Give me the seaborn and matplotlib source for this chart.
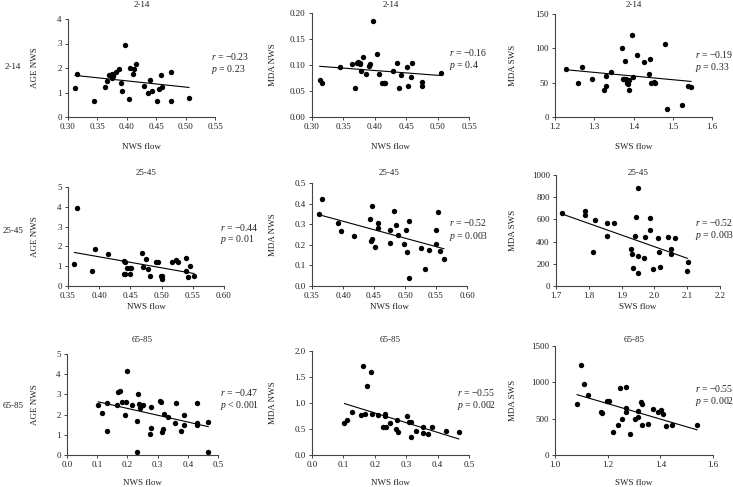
import matplotlib
matplotlib.use("Agg")
import matplotlib.pyplot as plt
import seaborn as sns
from matplotlib.ticker import FormatStrFormatter

# ---- values ----
groups = ["2-14", "25-45", "65-85"]

# 2-14
nws_flow_2_14_a = [0.312, 0.315, 0.344, 0.363, 0.367, 0.370, 0.374, 0.375, 0.377, 0.381,
                   0.386, 0.390, 0.391, 0.397, 0.403, 0.406, 0.411, 0.413, 0.416, 0.430,
                   0.436, 0.440, 0.443, 0.451, 0.454, 0.458, 0.460, 0.476, 0.476, 0.506]
age_nws_2_14 = [1.18, 1.74, 0.66, 1.23, 1.48, 1.72, 1.76, 1.60, 1.68, 1.82,
                1.95, 1.40, 1.08, 2.94, 0.73, 2.01, 1.76, 1.97, 2.16, 1.26,
                0.98, 1.49, 1.07, 0.66, 1.13, 1.71, 1.23, 1.83, 0.66, 0.79]

nws_flow_2_14_b = [0.312, 0.316, 0.344, 0.363, 0.368, 0.371, 0.374, 0.376, 0.377, 0.378,
                   0.382, 0.386, 0.390, 0.392, 0.397, 0.403, 0.406, 0.411, 0.414, 0.416,
                   0.429, 0.436, 0.439, 0.442, 0.451, 0.453, 0.458, 0.459, 0.475, 0.475, 0.505]
mda_nws_2_14 = [0.071, 0.065, 0.097, 0.101, 0.055, 0.104, 0.105, 0.101, 0.104, 0.089,
                0.115, 0.083, 0.099, 0.102, 0.185, 0.121, 0.083, 0.065, 0.066, 0.065,
                0.089, 0.104, 0.055, 0.081, 0.097, 0.060, 0.077, 0.104, 0.067, 0.060, 0.084]

sws_flow_2_14 = [1.227, 1.258, 1.268, 1.294, 1.326, 1.329, 1.330, 1.343, 1.370, 1.373,
                 1.376, 1.378, 1.381, 1.385, 1.384, 1.388, 1.387, 1.389, 1.397, 1.398,
                 1.409, 1.426, 1.440, 1.441, 1.445, 1.451, 1.456, 1.480, 1.485, 1.523,
                 1.539, 1.547]
mda_sws_2_14 = [70, 50, 73, 55, 39, 45, 59, 66, 101, 56,
                55, 81, 56, 52, 49, 54, 48, 39, 120, 58,
                91, 80, 63, 85, 49, 51, 49, 106, 12, 17,
                45, 44]

# 25-45
nws_flow_25_45_a = [0.360, 0.365, 0.389, 0.393, 0.414, 0.439, 0.439, 0.441, 0.442, 0.445,
                    0.449, 0.450, 0.451, 0.469, 0.470, 0.475, 0.478, 0.481, 0.491, 0.494,
                    0.499, 0.500, 0.500, 0.516, 0.523, 0.527, 0.539, 0.539, 0.542, 0.546, 0.552]
age_nws_25_45 = [1.12, 3.92, 0.78, 1.88, 1.64, 1.27, 0.63, 1.19, 0.63, 0.90,
                 0.90, 0.63, 0.90, 1.66, 0.98, 1.34, 0.85, 0.53, 1.19, 1.19,
                 0.51, 0.37, 0.49, 1.19, 1.31, 1.22, 1.39, 0.76, 0.46, 1.03, 0.49]

nws_flow_25_45_b = [0.362, 0.366, 0.392, 0.396, 0.418, 0.444, 0.445, 0.447, 0.447, 0.451,
                    0.456, 0.457, 0.476, 0.476, 0.482, 0.485, 0.489, 0.499, 0.501, 0.503,
                    0.506, 0.507, 0.526, 0.532, 0.538, 0.550, 0.550, 0.553, 0.557, 0.563]
mda_nws_25_45 = [0.351, 0.422, 0.304, 0.269, 0.243, 0.324, 0.218, 0.387, 0.227, 0.189,
                 0.306, 0.283, 0.272, 0.207, 0.364, 0.296, 0.249, 0.204, 0.272, 0.165,
                 0.314, 0.037, 0.186, 0.083, 0.173, 0.206, 0.272, 0.359, 0.168, 0.131]

sws_flow_25_45 = [1.717, 1.789, 1.789, 1.814, 1.820, 1.857, 1.857, 1.878, 1.928, 1.932,
                  1.936, 1.940, 1.944, 1.950, 1.950, 1.950, 1.968, 1.972, 1.986, 1.986,
                  1.997, 2.012, 2.015, 2.018, 2.040, 2.050, 2.050, 2.064, 2.098, 2.101]
mda_sws_25_45 = [659, 674, 638, 302, 595, 565, 450, 565, 335, 290,
                 166, 450, 625, 885, 272, 121, 248, 438, 616, 505,
                 154, 429, 305, 172, 441, 329, 284, 429, 133, 220]

# 65-85
nws_flow_65_85_a = [0.103, 0.117, 0.132, 0.134, 0.164, 0.168, 0.174, 0.181, 0.193, 0.195,
                    0.198, 0.214, 0.233, 0.236, 0.240, 0.242, 0.253, 0.233, 0.274, 0.277,
                    0.278, 0.308, 0.312, 0.313, 0.319, 0.321, 0.336, 0.360, 0.357, 0.376,
                    0.387, 0.387, 0.431, 0.429, 0.431, 0.468, 0.468]
age_nws_65_85 = [2.46, 2.07, 1.18, 2.57, 2.46, 3.11, 3.18, 2.62, 2.00, 2.61,
                 4.18, 2.46, 1.66, 3.00, 2.54, 2.34, 2.48, 0.16, 1.05, 2.38,
                 1.34, 2.69, 2.62, 1.16, 1.28, 2.02, 1.89, 2.59, 1.57, 1.18,
                 2.00, 1.49, 2.57, 1.57, 1.49, 1.64, 0.16]

nws_flow_65_85_b = [0.103, 0.110, 0.126, 0.157, 0.161, 0.168, 0.174, 0.187, 0.191, 0.209,
                    0.226, 0.231, 0.234, 0.235, 0.249, 0.268, 0.272, 0.273, 0.303, 0.309,
                    0.314, 0.315, 0.330, 0.352, 0.354, 0.371, 0.382, 0.427, 0.468]
mda_nws_65_85 = [0.607, 0.665, 0.818, 0.760, 1.706, 0.780, 1.335, 1.597, 0.780, 0.760,
                 0.530, 0.792, 0.748, 0.543, 0.607, 0.492, 0.677, 0.441, 0.748, 0.639,
                 0.639, 0.351, 0.460, 0.422, 0.537, 0.409, 0.537, 0.454, 0.441]

sws_flow_65_85 = [1.083, 1.099, 1.109, 1.126, 1.176, 1.180, 1.196, 1.205, 1.219, 1.241,
                  1.248, 1.256, 1.269, 1.270, 1.270, 1.283, 1.305, 1.315, 1.316, 1.325,
                  1.329, 1.329, 1.353, 1.373, 1.393, 1.401, 1.410, 1.423, 1.446, 1.540]
mda_sws_65_85 = [708, 1237, 982, 826, 598, 580, 740, 740, 315, 406,
                 927, 498, 932, 648, 594, 288, 498, 612, 521, 735,
                 703, 411, 420, 639, 594, 626, 566, 397, 411, 411]

r_values = ["−0.23", "−0.16", "−0.19", "−0.44", "−0.52", "−0.52", "−0.47", "−0.55", "−0.55"]
p_values = ["= 0.23", "= 0.4", "= 0.33", "= 0.01", "= 0.003", "= 0.003", "< 0.001", "= 0.002", "= 0.002"]

panels = [
    (nws_flow_2_14_a, age_nws_2_14, "NWS flow", "AGE NWS"),
    (nws_flow_2_14_b, mda_nws_2_14, "NWS flow", "MDA NWS"),
    (sws_flow_2_14, mda_sws_2_14, "SWS flow", "MDA SWS"),
    (nws_flow_25_45_a, age_nws_25_45, "NWS flow", "AGE NWS"),
    (nws_flow_25_45_b, mda_nws_25_45, "NWS flow", "MDA NWS"),
    (sws_flow_25_45, mda_sws_25_45, "SWS flow", "MDA SWS"),
    (nws_flow_65_85_a, age_nws_65_85, "NWS flow", "AGE NWS"),
    (nws_flow_65_85_b, mda_nws_65_85, "NWS flow", "MDA NWS"),
    (sws_flow_65_85, mda_sws_65_85, "SWS flow", "MDA SWS"),
]

# axis ranges: (xmin, xmax, xstep, xfmt, ymin, ymax, ystep, yfmt)
axis_specs = [
    (0.30, 0.55, 0.05, "%.2f", 0, 4, 1, "%d"),
    (0.30, 0.55, 0.05, "%.2f", 0, 0.20, 0.05, "%.2f"),
    (1.2, 1.6, 0.1, "%.1f", 0, 150, 50, "%d"),
    (0.35, 0.60, 0.05, "%.2f", 0, 5, 1, "%d"),
    (0.35, 0.60, 0.05, "%.2f", 0, 0.5, 0.1, "%.1f"),
    (1.7, 2.2, 0.1, "%.1f", 0, 1000, 200, "%d"),
    (0.0, 0.5, 0.1, "%.1f", 0, 5, 1, "%d"),
    (0.0, 0.5, 0.1, "%.1f", 0, 2.0, 0.5, "%.1f"),
    (1.0, 1.6, 0.2, "%.1f", 0, 1500, 500, "%d"),
]

# ---- layout (pixels on a 733x487 canvas) ----
W, H = 733, 487
boxes = [
    (68, 215, 19, 117), (312, 469, 13, 117), (555, 712, 14, 117),
    (68, 224, 187, 286), (312, 467, 183, 286), (556, 720, 175, 286),
    (67, 218, 354, 455), (312, 469, 351, 455), (555, 713, 346, 455),
]
title_y = [5, 173, 340]
xlabel_y = [147, 307, 483]
ylabel_x = [35, 273, 513]
rowlabel_y = [67, 231, 406]
stat_pos = [(211, 57), (449, 53), (695, 54),
            (220, 227), (449, 223), (695, 222),
            (220, 393), (457, 392), (695, 388)]


def fx(x):
    return x / W


def fy(y):
    return 1 - y / H


sns.set_style("ticks")
plt.rcParams["font.family"] = ["Liberation Serif", "DejaVu Serif"]
plt.rcParams["mathtext.fontset"] = "custom"
plt.rcParams["mathtext.it"] = "Liberation Serif:italic"
plt.rcParams["mathtext.rm"] = "Liberation Serif"

fig = plt.figure(figsize=(7.33, 4.87), dpi=100)
tick_fs = 6.5
label_fs = 6.5
stat_fs = 7
spine_col = "#444444"

for i, ((x, y, xl, yl), spec, box) in enumerate(zip(panels, axis_specs, boxes)):
    row, col = divmod(i, 3)
    l, r, t, b = box
    ax = fig.add_axes([fx(l), fy(b), (r - l) / W, (b - t) / H])
    sns.regplot(x=x, y=y, ax=ax, ci=None, color="black",
                scatter_kws={"s": 15, "linewidths": 0, "alpha": 1},
                line_kws={"linewidth": 0.8})
    xmin, xmax, xstep, xfmt, ymin, ymax, ystep, yfmt = spec
    nx = int(round((xmax - xmin) / xstep))
    ny = int(round((ymax - ymin) / ystep))
    ax.set_xticks([xmin + k * xstep for k in range(nx + 1)])
    ax.set_yticks([ymin + k * ystep for k in range(ny + 1)])
    ax.set_xlim(xmin, xmax)
    ax.set_ylim(ymin, ymax)
    ax.xaxis.set_major_formatter(FormatStrFormatter(xfmt))
    ax.yaxis.set_major_formatter(FormatStrFormatter(yfmt))
    ax.tick_params(labelsize=tick_fs, length=2.5, width=0.7, pad=2,
                   color=spine_col, labelcolor="#222222")
    sns.despine(ax=ax)
    for s in ("left", "bottom"):
        ax.spines[s].set_color(spine_col)
        ax.spines[s].set_linewidth(0.8)
    ax.set_xlabel("")
    ax.set_ylabel("")

    cx = (l + r) / 2
    fig.text(fx(cx), fy(title_y[row]), groups[row], ha="center", va="center",
             fontsize=label_fs, color="#222222")
    fig.text(fx(cx), fy(xlabel_y[row]), xl, ha="center", va="center",
             fontsize=label_fs, color="#222222")
    fig.text(fx(ylabel_x[col]), fy((t + b) / 2), yl, ha="center", va="center",
             rotation=90, fontsize=label_fs, color="#222222")

    sx, sy = stat_pos[i]
    fig.text(fx(sx), fy(sy), "$r$ = " + r_values[i], ha="left", va="center",
             fontsize=stat_fs, color="#222222")
    fig.text(fx(sx), fy(sy + 13), "$p$ " + p_values[i], ha="left", va="center",
             fontsize=stat_fs, color="#222222")

for row, g in enumerate(groups):
    fig.text(fx(13), fy(rowlabel_y[row]), g, ha="center", va="center",
             fontsize=label_fs, color="#222222")

fig.savefig("out.png", dpi=100)
